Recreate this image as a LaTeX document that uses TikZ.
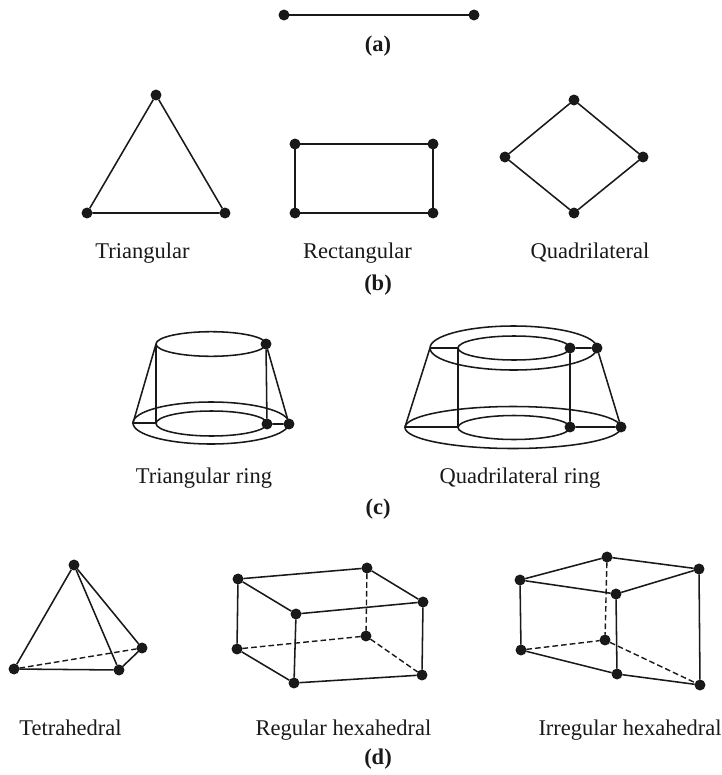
\documentclass[tikz,border=0pt]{standalone}
\usepackage{fontspec}
\setmainfont{Liberation Serif}

\begin{document}
\begin{tikzpicture}[
  x=0.025cm, y=-0.025cm,
  vertex/.style={circle, fill=black!90, inner sep=0pt, outer sep=0pt, minimum size=7.8pt},
  edge/.style={draw=black!90, line width=1.1pt},
  hidden/.style={edge, dash pattern=on 4pt off 2.2pt, line width=1pt},
  caption/.style={anchor=base, font=\fontsize{16}{19}\selectfont, text=black!90},
  part/.style={caption, font=\fontsize{16}{19}\selectfont\bfseries},
]
\useasboundingbox (0,0) rectangle (722,775);

% Line element
\node[vertex] (la) at (284,15) {};
\node[vertex] (lb) at (474,15) {};
\draw[edge] (la) -- (lb);
\node[part] (capa) at (378,51.5) {(a)};

% Triangular
\node[vertex] (ta) at (156,95) {};
\node[vertex] (tb) at (87,213) {};
\node[vertex] (tc) at (225,213) {};
\draw[edge] (ta) -- (tb) -- (tc) -- (ta);
\node[caption] (captri) at (142.5,258) {Triangular};

% Rectangular
\node[vertex] (ra) at (295,144) {};
\node[vertex] (rb) at (433,144) {};
\node[vertex] (rc) at (433,213) {};
\node[vertex] (rd) at (295,213) {};
\draw[edge] (ra) -- (rb) -- (rc) -- (rd) -- (ra);
\node[caption] (caprect) at (357.5,258) {Rectangular};

% Quadrilateral
\node[vertex] (qa) at (574,100) {};
\node[vertex] (qb) at (643,157) {};
\node[vertex] (qc) at (574,213) {};
\node[vertex] (qd) at (505,157) {};
\draw[edge] (qa) -- (qb) -- (qc) -- (qd) -- (qa);
\node[caption] (capquad) at (590,258) {Quadrilateral};
\node[part] (capb) at (378,290) {(b)};

% Triangular ring
\coordinate (tr1) at (156,344);
\node[vertex] (tr2) at (266,344) {};
\coordinate (tr3) at (133,423);
\coordinate (tr4) at (156,423);
\node[vertex] (tr5) at (267,424) {};
\node[vertex] (tr6) at (289,424) {};
\draw[edge] (211,344) ellipse [x radius=55, y radius=12.3];
\draw[edge] (211.5,423.5) ellipse [x radius=55.5, y radius=12.5];
\draw[edge] (211,423) ellipse [x radius=78, y radius=21];
\draw[edge] (tr1) -- (tr4) -- (tr3) -- (tr1);
\draw[edge] (tr2) -- (tr5) -- (tr6) -- (tr2);
\node[caption] (captring) at (204,483) {Triangular ring};

% Quadrilateral ring
\coordinate (qr1) at (430,348);
\coordinate (qr2) at (458,348);
\node[vertex] (qr3) at (570,348) {};
\node[vertex] (qr4) at (597,348) {};
\coordinate (qr5) at (405,427);
\coordinate (qr6) at (458,427);
\node[vertex] (qr7) at (570,427) {};
\node[vertex] (qr8) at (621,427) {};
\draw[edge] (513.5,348) ellipse [x radius=83.5, y radius=22];
\draw[edge] (514,348) ellipse [x radius=56, y radius=12];
\draw[edge] (513,427.5) ellipse [x radius=108, y radius=21];
\draw[edge] (514,427.5) ellipse [x radius=56, y radius=12];
\draw[edge] (qr1) -- (qr2) -- (qr6) -- (qr5) -- (qr1);
\draw[edge] (qr3) -- (qr4) -- (qr8) -- (qr7) -- (qr3);
\node[caption] (capqring) at (520,483) {Quadrilateral ring};
\node[part] (capc) at (378,514) {(c)};

% Tetrahedral
\node[vertex] (pa) at (74,565) {};
\node[vertex] (pb) at (14,669) {};
\node[vertex] (pc) at (119,670) {};
\node[vertex] (pd) at (142,648) {};
\draw[edge] (pa) -- (pb) -- (pc) -- (pa);
\draw[edge] (pa) -- (pd) -- (pc);
\draw[hidden] (pb) -- (pd);
\node[caption] (captet) at (70.5,735) {Tetrahedral};

% Regular hexahedral
\node[vertex] (h1) at (238,579) {};
\node[vertex] (h2) at (367,568) {};
\node[vertex] (h3) at (423,602) {};
\node[vertex] (h4) at (296,614) {};
\node[vertex] (h5) at (237,649) {};
\node[vertex] (h6) at (366,636) {};
\node[vertex] (h7) at (422,675) {};
\node[vertex] (h8) at (294,683) {};
\draw[edge] (h1) -- (h2) -- (h3) -- (h4) -- (h1);
\draw[edge] (h5) -- (h8) -- (h7) -- (h3);
\draw[edge] (h1) -- (h5);
\draw[edge] (h4) -- (h8);
\draw[hidden] (h2) -- (h6);
\draw[hidden] (h5) -- (h6);
\draw[hidden] (h6) -- (h7);
\node[caption] (capreg) at (343.5,735) {Regular hexahedral};

% Irregular hexahedral
\node[vertex] (g1) at (520,580) {};
\node[vertex] (g2) at (607,557) {};
\node[vertex] (g3) at (699,569) {};
\node[vertex] (g4) at (616,594) {};
\node[vertex] (g5) at (521,650) {};
\node[vertex] (g6) at (605,640) {};
\node[vertex] (g7) at (700,685) {};
\node[vertex] (g8) at (617,674) {};
\draw[edge] (g1) -- (g2) -- (g3) -- (g4) -- (g1);
\draw[edge] (g5) -- (g8) -- (g7) -- (g3);
\draw[edge] (g1) -- (g5);
\draw[edge] (g4) -- (g8);
\draw[hidden] (g2) -- (g6);
\draw[hidden] (g5) -- (g6);
\draw[hidden] (g6) -- (g7);
\node[caption] (capirr) at (630,735) {Irregular hexahedral};
\node[part] (capd) at (378,764) {(d)};

\end{tikzpicture}
\end{document}
